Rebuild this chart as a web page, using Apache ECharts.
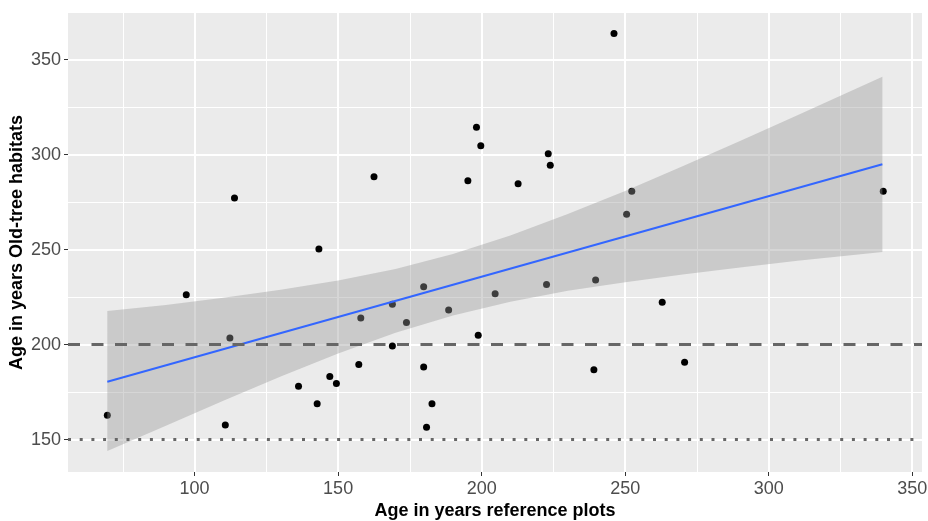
<!DOCTYPE html>
<html>
<head>
<meta charset="utf-8">
<script src="https://cdn.jsdelivr.net/npm/echarts@6/dist/echarts.min.js"></script>
<style>
html, body { margin: 0; padding: 0; background: #fff; }
#main { width: 928px; height: 521px; }
</style>
</head>
<body>
<div id="main"></div>
<script>
// axis breaks (ggplot style: major + minor)
var xTicks = [100, 150, 200, 250, 300, 350];
var xMinor = [75, 125, 175, 225, 275, 325];
var yTicks = [150, 200, 250, 300, 350];
var yMinor = [175, 225, 275, 325];

// points
var plotAge = [69.6, 97.1, 110.7, 112.3, 113.9, 136.2, 142.7, 143.3, 147.1, 149.4,
    157.2, 157.9, 162.5, 168.9, 168.9, 173.8, 179.8, 179.8, 180.8, 182.7,
    188.5, 195.2, 198.2, 198.8, 199.7, 204.7, 212.7, 222.6, 223.2, 223.9,
    239.1, 239.7, 246.1, 250.5, 252.3, 262.9, 270.7, 339.9];
var habitatAge = [162.8, 226.3, 157.7, 203.5, 277.2, 178.1, 168.9, 250.3, 183.2, 179.5,
    189.6, 214.0, 288.4, 221.2, 199.3, 211.6, 230.5, 188.2, 156.6, 168.9,
    218.2, 286.3, 314.4, 204.9, 304.7, 226.8, 284.7, 231.6, 300.5, 294.4,
    186.8, 234.0, 363.7, 268.6, 280.7, 222.3, 190.7, 280.7];

// smoother line and its confidence band
var fitX = [69.6, 339.6];
var fitY = [180.5, 294.9];
var bandX = [69.6, 90, 110, 130, 150, 170, 190, 210, 230, 250, 270, 290, 310, 339.6];
var bandUpper = [217.7, 220.9, 224.7, 228.9, 233.7, 239.8, 247.7, 257.4, 268.7, 280.9, 293.9, 307.2, 320.7, 340.9];
var bandLower = [144.0, 157.3, 170.5, 183.3, 195.3, 206.2, 215.3, 222.6, 228.3, 232.9, 236.9, 240.6, 244.1, 248.8];

// reference lines
var dashedAt = 200;
var dottedAt = 150;

var myChart = echarts.init(document.getElementById('main'));

var points = plotAge.map(function (x, i) { return [x, habitatAge[i]]; });
var fitData = fitX.map(function (x, i) { return [x, fitY[i]]; });

var gridLines = [];
xMinor.forEach(function (v) { gridLines.push({ xAxis: v, lineStyle: { width: 1 } }); });
yMinor.forEach(function (v) { gridLines.push({ yAxis: v, lineStyle: { width: 1 } }); });
xTicks.forEach(function (v) { gridLines.push({ xAxis: v, lineStyle: { width: 2 } }); });
yTicks.forEach(function (v) { gridLines.push({ yAxis: v, lineStyle: { width: 2 } }); });

var option = {
    animation: false,
    textStyle: { fontFamily: 'Liberation Sans, Arial, sans-serif' },
    grid: {
        left: 68, top: 13, width: 854, height: 459,
        outerBoundsMode: 'none', containLabel: false,
        show: true, backgroundColor: '#EBEBEB', borderWidth: 0
    },
    xAxis: {
        type: 'value', min: 55.9, max: 353.4,
        name: 'Age in years reference plots',
        nameLocation: 'middle', nameGap: 30, nameMoveOverlap: false,
        nameTextStyle: { color: '#000', fontSize: 18, fontWeight: 'bold' },
        axisLine: { show: false },
        axisTick: { show: true, length: 4, customValues: xTicks, lineStyle: { color: '#333', width: 1 } },
        axisLabel: { customValues: xTicks, color: '#4D4D4D', fontSize: 18, margin: 8 },
        splitLine: { show: false }
    },
    yAxis: {
        type: 'value', min: 133, max: 374.5,
        name: 'Age in years Old-tree habitats',
        nameLocation: 'middle', nameGap: 42, nameMoveOverlap: false,
        nameTextStyle: { color: '#000', fontSize: 18, fontWeight: 'bold' },
        axisLine: { show: false },
        axisTick: { show: true, length: 4, customValues: yTicks, lineStyle: { color: '#333', width: 1 } },
        axisLabel: { customValues: yTicks, color: '#4D4D4D', fontSize: 18, margin: 7 },
        splitLine: { show: false }
    },
    series: [
        {
            // background grid lines
            type: 'line', data: [], silent: true,
            markLine: {
                z: 1, silent: true, symbol: ['none', 'none'],
                label: { show: false },
                lineStyle: { color: '#FFFFFF', type: 'solid' },
                data: gridLines
            }
        },
        {
            type: 'scatter', data: points, z: 2,
            symbolSize: 7,
            itemStyle: { color: '#000', opacity: 1 }
        },
        {
            type: 'custom', z: 3, silent: true,
            data: [[bandX[0], bandUpper[0]]],
            renderItem: function (params, api) {
                var pts = [];
                for (var i = 0; i < bandX.length; i++) pts.push(api.coord([bandX[i], bandUpper[i]]));
                for (var j = bandX.length - 1; j >= 0; j--) pts.push(api.coord([bandX[j], bandLower[j]]));
                return {
                    type: 'polygon',
                    shape: { points: pts },
                    style: { fill: 'rgba(153,153,153,0.4)' }
                };
            }
        },
        {
            type: 'line', data: fitData, z: 4,
            showSymbol: false, silent: true,
            lineStyle: { color: '#3366FF', width: 2 },
            markLine: {
                z: 6, silent: true, symbol: ['none', 'none'],
                label: { show: false },
                data: [
                    { yAxis: dashedAt, lineStyle: { color: '#666666', width: 3, type: [12, 11.5] } },
                    { yAxis: dottedAt, lineStyle: { color: '#666666', width: 3, type: [3, 8.7] } }
                ]
            }
        }
    ]
};

myChart.setOption(option);
</script>
</body>
</html>
